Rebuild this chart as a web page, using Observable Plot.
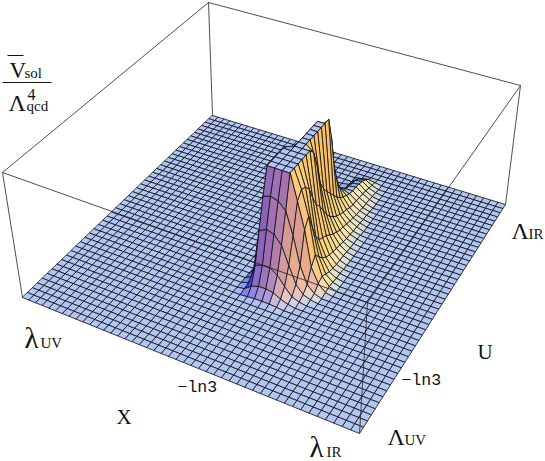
<!DOCTYPE html>
<html><head><meta charset="utf-8">
<script src="https://cdn.jsdelivr.net/npm/d3@7"></script>
<script src="https://cdn.jsdelivr.net/npm/@observablehq/plot@0.6"></script>
<style>html,body{margin:0;padding:0;background:#fff}svg{display:block}</style>
</head><body><div id="chart"></div>
<script>
const cells = 45;
const firstCol = 23;   // x index of the first column of the table
const firstRow = 13;   // u index of the first row of the table
const heightRows = [
[0,.005,.01,.01,.01,.005,0,0,0,0],
[.01,.05,.07,.07,.06,.03,.01,0,0,0],
[.02,.18,.2,.2,.16,.09,.03,.01,0,0],
[.03,.42,.45,.43,.36,.22,.09,.03,.01,0],
[.05,.66,.68,.66,.6,.42,.2,.07,.02,0],
[.1,.87,.87,.87,.87,.66,.45,.17,.06,.01],
[.08,.87,.87,.87,.87,.72,.52,.23,.08,.02],
[.07,.87,.87,.87,.87,.7,.4,.18,.06,.015],
[.06,.87,.87,.87,.87,.65,.29,.13,.04,.01],
[.05,.87,.87,.87,.87,.54,.22,.1,.03,.01],
[.05,.85,.87,.87,.87,.45,.2,.08,.025,.005],
[.04,.8,.87,.87,.82,.4,.18,.07,.02,0],
[.04,.72,.87,.87,.68,.33,.15,.06,.02,0],
[.03,.62,.87,.87,.5,.26,.12,.05,.015,0],
[.03,.52,.87,.87,.42,.21,.1,.04,.01,0],
[.02,.44,.87,.87,.36,.17,.08,.03,.01,0],
[.02,.37,.87,.87,.31,.14,.07,.03,.01,0],
[.02,.3,.8,.87,.26,.12,.06,.02,.005,0],
[.01,.24,.58,.68,.21,.1,.05,.02,0,0],
[.01,.18,.36,.42,.17,.09,.04,.015,0,0],
[.01,.12,.2,.26,.14,.07,.03,.01,0,0],
[0,.07,.11,.17,.12,.06,.03,.01,0,0],
[0,.03,.05,.12,.1,.06,.02,.005,0,0],
[0,.01,.02,.09,.09,.05,.02,0,0,0],
[0,0,.01,.08,.09,.05,.02,0,0,0],
[0,0,.01,.07,.08,.04,.01,0,0,0],
[0,0,.01,.06,.07,.03,.01,0,0,0],
[0,0,0,.04,.05,.02,0,0,0,0],
[0,0,0,.01,.02,.01,0,0,0,0]
];

// camera: where the box corners land (x,u) = (0,0),(1,0),(1,1),(0,1)
const floorCorners = [[22,297],[359,433],[505,204],[212,115]];
const topCorners   = [[2,172],[367,302],[520,85],[208,2]];

function homography(q){
  const [[x0,y0],[x1,y1],[x2,y2],[x3,y3]] = q;
  const dx1=x1-x2, dx2=x3-x2, sx=x0-x1+x2-x3, dy1=y1-y2, dy2=y3-y2, sy=y0-y1+y2-y3;
  const d=dx1*dy2-dx2*dy1, g=(sx*dy2-dx2*sy)/d, h=(dx1*sy-sx*dy1)/d;
  const a=x1-x0+g*x1, b=x3-x0+h*x3, c=x0, e=y1-y0+g*y1, f=y3-y0+h*y3, k=y0;
  return (s,t)=>{const w=g*s+h*t+1; return [(a*s+b*t+c)/w,(e*s+f*t+k)/w];};
}
const floorH = homography(floorCorners), topH = homography(topCorners);
function project(s,t,z){
  const p=floorH(s,t), q=topH(s,t);
  return [p[0]+z*(q[0]-p[0]), p[1]+z*(q[1]-p[1])];
}
function height(i,j){
  const r=heightRows[j-firstRow];
  if(!r) return 0;
  const v=r[i-firstCol];
  return v===undefined?0:v;
}
// lighting: flat = pale blue, +x face = orange, -u face = purple, -x face = navy
const ambient=[140,105,125], lightX=[110,82,-35], lightU=[-5,15,-35], lightZ=[38,93,117];
const relief=0.55;
function shade(i,j){
  const st=1/cells;
  const z00=height(i,j),z10=height(i+1,j),z01=height(i,j+1),z11=height(i+1,j+1);
  const dx=relief*((z10+z11)-(z00+z01))/(2*st), du=relief*((z01+z11)-(z00+z10))/(2*st);
  const n=Math.hypot(dx,du,1), nx=-dx/n, nu=-du/n, nz=1/n;
  const c=[0,1,2].map(k=>Math.max(0,Math.min(255,Math.round(ambient[k]+nx*lightX[k]+nu*lightU[k]+nz*lightZ[k]))));
  return `rgb(${c[0]},${c[1]},${c[2]})`;
}
// quads, painted from the far corner to the near corner
const quads=[];
let id=0;
for(let j=cells-1;j>=0;j--){
  for(let i=0;i<cells;i++){
    const fill=shade(i,j);
    for(const [a,b] of [[i,j],[i+1,j],[i+1,j+1],[i,j+1]]){
      const p=project(a/cells,b/cells,height(a,b));
      quads.push({id,x:p[0],y:p[1],fill});
    }
    id++;
  }
}
const boxEdges=[
 [topCorners[0],topCorners[1]],[topCorners[1],topCorners[2]],[topCorners[2],topCorners[3]],[topCorners[3],topCorners[0]],
 [topCorners[0],floorCorners[0]],[topCorners[1],floorCorners[1]],[topCorners[2],floorCorners[2]],[topCorners[3],floorCorners[3]]
].map(([a,b])=>({x1:a[0],y1:a[1],x2:b[0],y2:b[1]}));

const serif="Liberation Serif, Times New Roman, serif", mono="Liberation Mono, Courier New, monospace";
const labels=[
 {t:"V",x:9,y:77,s:23,f:serif},{t:"sol",x:24,y:77,s:15,f:serif},
 {t:"Λ",x:8,y:110,s:24,f:serif},{t:"4",x:27,y:99,s:16,f:serif},{t:"qcd",x:26,y:110,s:15,f:serif},
 {t:"λ",x:24,y:347,s:29,f:serif},{t:"UV",x:40,y:347,s:15,f:serif},
 {t:"λ",x:309,y:456,s:29,f:serif},{t:"IR",x:326,y:456,s:15,f:serif},
 {t:"Λ",x:387,y:444,s:24,f:serif},{t:"UV",x:404,y:444,s:15,f:serif},
 {t:"Λ",x:511,y:238,s:24,f:serif},{t:"IR",x:528,y:238,s:15,f:serif},
 {t:"X",x:116,y:423,s:21,f:serif},{t:"U",x:477,y:358,s:21,f:serif},
 {t:"−ln3",x:177,y:391,s:16.5,f:mono},{t:"−ln3",x:401,y:384,s:16.5,f:mono}
];
const fractionRules=[{x1:7,x2:23,y1:55,y2:55},{x1:2,x2:51,y1:82,y2:82}];

const chart=Plot.plot({
  width:545,height:461,marginTop:0,marginRight:0,marginBottom:0,marginLeft:0,
  x:{domain:[0,545],axis:null},y:{domain:[461,0],axis:null},
  color:{type:"identity"},
  style:{background:"#fff"},
  marks:[
    Plot.line(quads,{x:"x",y:"y",z:"id",fill:"fill",stroke:"#15151f",strokeWidth:0.85,curve:"linear-closed"}),
    Plot.link(boxEdges,{x1:"x1",y1:"y1",x2:"x2",y2:"y2",stroke:"#222",strokeWidth:0.8}),
    Plot.link(fractionRules,{x1:"x1",y1:"y1",x2:"x2",y2:"y2",stroke:"#111",strokeWidth:1}),
    ...labels.map(l=>Plot.text([l],{x:"x",y:"y",text:"t",textAnchor:"start",lineAnchor:"bottom",fontSize:l.s,fontFamily:l.f,fill:"#111"}))
  ]
});
document.getElementById("chart").appendChild(chart);
</script></body></html>
